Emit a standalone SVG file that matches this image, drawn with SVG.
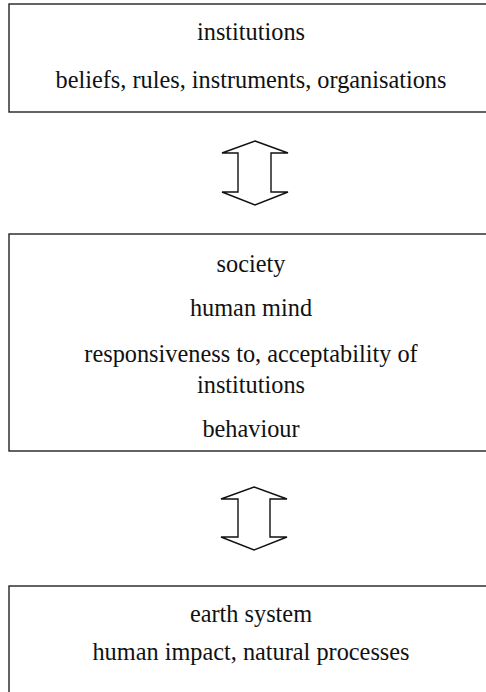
<svg xmlns="http://www.w3.org/2000/svg" width="486" height="692" viewBox="0 0 486 692">
<style>
.box{fill:#fff;stroke:#222;stroke-width:1.4}
.arr{fill:#fff;stroke:#111;stroke-width:1.4;stroke-linejoin:miter}
text{font-family:"Liberation Serif","Times New Roman",serif;font-size:24.3px;fill:#111;text-anchor:middle}
</style>
<rect width="486" height="692" fill="#fff"/>
<g id="institutions">
<rect class="box" x="9" y="4" width="486" height="108"/>
<text x="251" y="40">institutions</text>
<text x="251" y="88">beliefs, rules, instruments, organisations</text>
</g>
<g id="society">
<rect class="box" x="9" y="234" width="486" height="217"/>
<text x="251" y="272">society</text>
<text x="251" y="316">human mind</text>
<text x="251" y="362">responsiveness to, acceptability of</text>
<text x="251" y="393">institutions</text>
<text x="251" y="437">behaviour</text>
</g>
<g id="earth">
<rect class="box" x="9" y="586" width="486" height="120"/>
<text x="251" y="622">earth system</text>
<text x="251" y="660">human impact, natural processes</text>
</g>
<g id="connectors">
<path class="arr" d="M255,141 L288,153 L271,153 L271,192 L288,192 L255,205 L222,192 L238,192 L238,153 L222,153 Z"/>
<path class="arr" d="M254,487 L287,499 L270,499 L270,537 L287,537 L254,550 L221,537 L238,537 L238,499 L221,499 Z"/>
</g>
</svg>
